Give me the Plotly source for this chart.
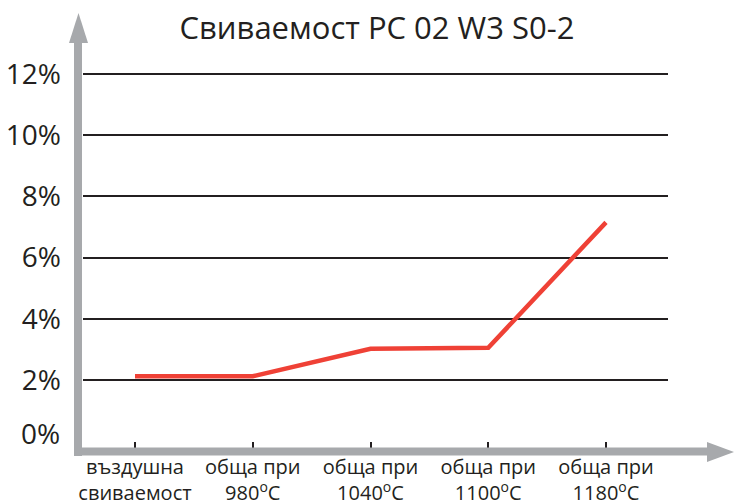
import plotly.graph_objects as go

title_text = "Свиваемост PC 02 W3 S0-2"
categories = ["въздушна<br>свиваемост", "обща при<br>980<sup>o</sup>C", "обща при<br>1040<sup>o</sup>C",
              "обща при<br>1100<sup>o</sup>C", "обща при<br>1180<sup>o</sup>C"]
shrinkage = [2.12, 2.12, 3.02, 3.05, 7.15]
y_ticks = [2, 4, 6, 8, 10, 12]
y_tick_labels = ["2%", "4%", "6%", "8%", "10%", "12%"]

W_, H_ = 735, 500
L, R, T, B = 83, 668, 60, 451
PW, PH = R - L, B - T

def px(x):
    return (x - L) / PW

def py(y):
    return (B - y) / PH

FONT = "Open Sans"
GRAY = "#a7a9ac"
RED = "#ef4136"
INK = "#231f20"

fig = go.Figure()
fig.add_trace(go.Scatter(
    x=list(range(len(categories))), y=shrinkage, mode="lines",
    line=dict(color=RED, width=4.5), hoverinfo="skip", showlegend=False))

shapes = []
# y axis shaft + arrow
shapes.append(dict(type="line", xref="paper", yref="paper", x0=px(78), x1=px(78), y0=py(456), y1=py(40),
                   line=dict(color=GRAY, width=8), layer="above"))
shapes.append(dict(type="path", xref="paper", yref="paper",
                   path=f"M {px(69)} {py(43)} L {px(88)} {py(43)} L {px(78.5)} {py(13)} Z",
                   fillcolor=GRAY, line=dict(width=0), layer="above"))
# x axis shaft + arrow
shapes.append(dict(type="line", xref="paper", yref="paper", x0=px(74), x1=px(710), y0=py(451.5), y1=py(451.5),
                   line=dict(color=GRAY, width=8), layer="above"))
shapes.append(dict(type="path", xref="paper", yref="paper",
                   path=f"M {px(707)} {py(442)} L {px(707)} {py(462)} L {px(734)} {py(452)} Z",
                   fillcolor=GRAY, line=dict(width=0), layer="above"))

annotations = [
    dict(text="0%", xref="paper", yref="y", x=0, y=0, xanchor="right", yanchor="middle",
         xshift=-21, yshift=8, showarrow=False, font=dict(family=FONT, size=28, color=INK)),
]

fig.update_layout(
    width=W_, height=H_,
    margin=dict(l=L, r=W_ - R, t=T, b=H_ - B, pad=0, autoexpand=False),
    paper_bgcolor="white", plot_bgcolor="white",
    title=dict(text=title_text, x=377 / W_, xanchor="center", y=1 - 28 / H_, yanchor="middle",
               automargin=False, font=dict(family=FONT, size=31, color=INK)),
    xaxis=dict(range=[(L - 135) / 117.75, (R - 135) / 117.75], automargin=False,
               tickmode="array", tickvals=list(range(len(categories))), ticktext=categories,
               ticks="inside", ticklen=9, tickwidth=2, tickcolor=INK,
               showgrid=False, zeroline=False, showline=False,
               tickfont=dict(family=FONT, size=20, color=INK), ticklabelstandoff=2),
    yaxis=dict(range=[2 - (B - 380) / 30.55, 12 + (74 - T) / 30.55], automargin=False,
               tickmode="array", tickvals=y_ticks, ticktext=y_tick_labels,
               showgrid=True, gridcolor=INK, gridwidth=2, zeroline=False, showline=False,
               ticks="", tickfont=dict(family=FONT, size=28, color=INK), ticklabelstandoff=21),
    shapes=shapes, annotations=annotations,
)

fig.write_html("out.html", config={"displayModeBar": False},
               post_script="document.body.style.margin='0';document.body.style.overflow='hidden';")
